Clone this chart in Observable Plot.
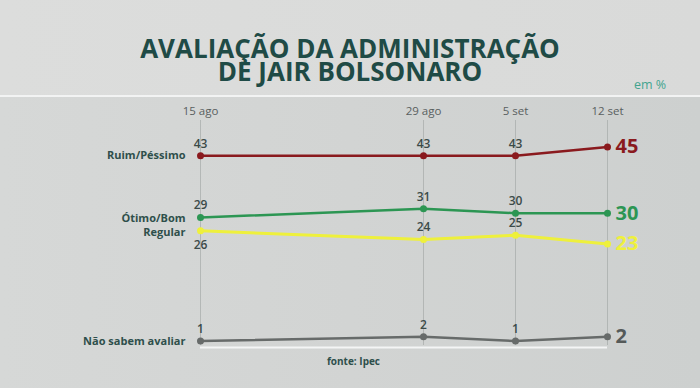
<!DOCTYPE html>
<html>
<head>
<meta charset="utf-8">
<script src="https://cdn.jsdelivr.net/npm/d3@7"></script>
<script src="https://cdn.jsdelivr.net/npm/@observablehq/plot@0.6"></script>
<style>
  html, body { margin: 0; padding: 0; width: 700px; height: 388px; overflow: hidden;
    background: linear-gradient(90deg, #d6d8d7 0%, #d2d4d3 50%, #cdd0cf 100%); }
  #header { position: relative; height: 95px; border-bottom: 2px solid #f2f3f3;
    background: linear-gradient(90deg, #dcdddc 0%, #d9dad9 100%); }
  .title { position: absolute; left: 0; width: 700px; height: 20px; text-align: center;
    font-family: "Open Sans", Roboto, sans-serif; font-weight: 700; font-size: 26px;
    line-height: 20px; color: #1f4b46; overflow: visible; white-space: nowrap; }
  #t1 { top: 38px; }
  #t2 { top: 61px; }
  #unit { position: absolute; left: 634px; top: 76px; font-family: "Open Sans", sans-serif;
    font-size: 12.5px; color: #43a48f; }
  #chart svg { display: block; background: transparent; }
</style>
</head>
<body>
<div id="header">
  <div class="title" id="t1">AVALIAÇÃO DA ADMINISTRAÇÃO</div>
  <div class="title" id="t2">DE JAIR BOLSONARO</div>
  <div id="unit">em %</div>
</div>
<div id="chart"></div>
<script>
const dates = ["2022-08-15", "2022-08-29", "2022-09-05", "2022-09-12"];
const dateLabels = ["15 ago", "29 ago", "5 set", "12 set"];
const seriesNames = ["Ruim/Péssimo", "Ótimo/Bom", "Regular", "Não sabem avaliar"];
const ruimPessimo = [43, 43, 43, 45];
const otimoBom = [29, 31, 30, 30];
const regular = [26, 24, 25, 23];
const naoSabem = [1, 2, 1, 2];
const seriesColors = ["#8a1a1e", "#2c9653", "#eef03c", "#676b6a"];
const source = "fonte: Ipec";

const parsed = dates.map(d => new Date(d + "T00:00:00Z"));
const allValues = [ruimPessimo, otimoBom, regular, naoSabem];
const rows = [];
allValues.forEach((vals, s) => vals.forEach((v, i) => rows.push({series: seriesNames[s], s, i, date: parsed[i], value: v})));
const last = parsed.length - 1;

const textColor = "#3b4a48";
const font = "'Open Sans', sans-serif";

const marks = [
  Plot.axisX({anchor: "top", ticks: parsed, tickSize: 0, tickPadding: 6,
    tickFormat: (d) => dateLabels[parsed.findIndex(p => +p === +d)],
    fontSize: 11.5, fill: "#59605f", label: null, fontFamily: font}),
  Plot.gridX(parsed, {stroke: "#9aa09e", strokeOpacity: 0.7, strokeWidth: 0.8}),
  Plot.ruleY([0], {x1: parsed[0], x2: parsed[last], stroke: "#f4f5f5", strokeWidth: 2, dy: 2})
];

seriesNames.forEach((name, s) => {
  const data = rows.filter(r => r.s === s);
  marks.push(Plot.line(data, {x: "date", y: "value", stroke: seriesColors[s], strokeWidth: s === 2 ? 3 : 2.5}));
  marks.push(Plot.dot(data, {x: "date", y: "value", fill: seriesColors[s], r: 3.5}));
  const above = data.filter(r => r.i < last && !(s === 2 && r.i === 0));
  marks.push(Plot.text(above, {x: "date", y: "value", text: d => String(d.value), dy: -12,
    fill: textColor, fontSize: 12, fontWeight: 600, fontFamily: font}));
  if (s === 2) {
    marks.push(Plot.text(data.filter(r => r.i === 0), {x: "date", y: "value", text: d => String(d.value), dy: 14,
      fill: textColor, fontSize: 12, fontWeight: 600, fontFamily: font}));
  }
  marks.push(Plot.text(data.filter(r => r.i === last), {x: "date", y: "value", text: d => String(d.value),
    dx: 8, textAnchor: "start", fill: s === 3 ? "#555a59" : seriesColors[s], fontSize: 20, fontWeight: 700, fontFamily: font}));
  marks.push(Plot.text(data.filter(r => r.i === 0), {x: "date", y: "value", text: "series", dx: -15, dy: s === 2 ? 2 : (s === 1 ? 1 : 0),
    textAnchor: "end", fill: "#2e4f4b", fontSize: 11, fontWeight: 700, fontFamily: font}));
});

marks.push(Plot.text([source], {x: parsed[0], frameAnchor: "bottom", text: d => d, dx: 153, dy: 19,
  fill: "#2e4f4b", fontSize: 10, fontWeight: 700, fontFamily: font}));

const chart = Plot.plot({
  width: 700,
  height: 291,
  marginTop: 23,
  marginBottom: 43,
  style: {background: "transparent", overflow: "visible"},
  x: {type: "utc", domain: [parsed[0], parsed[1], parsed[3]], range: [200, 423, 607]},
  y: {domain: [0, 51], axis: null},
  marks
});
document.getElementById("chart").appendChild(chart);
</script>
</body>
</html>
